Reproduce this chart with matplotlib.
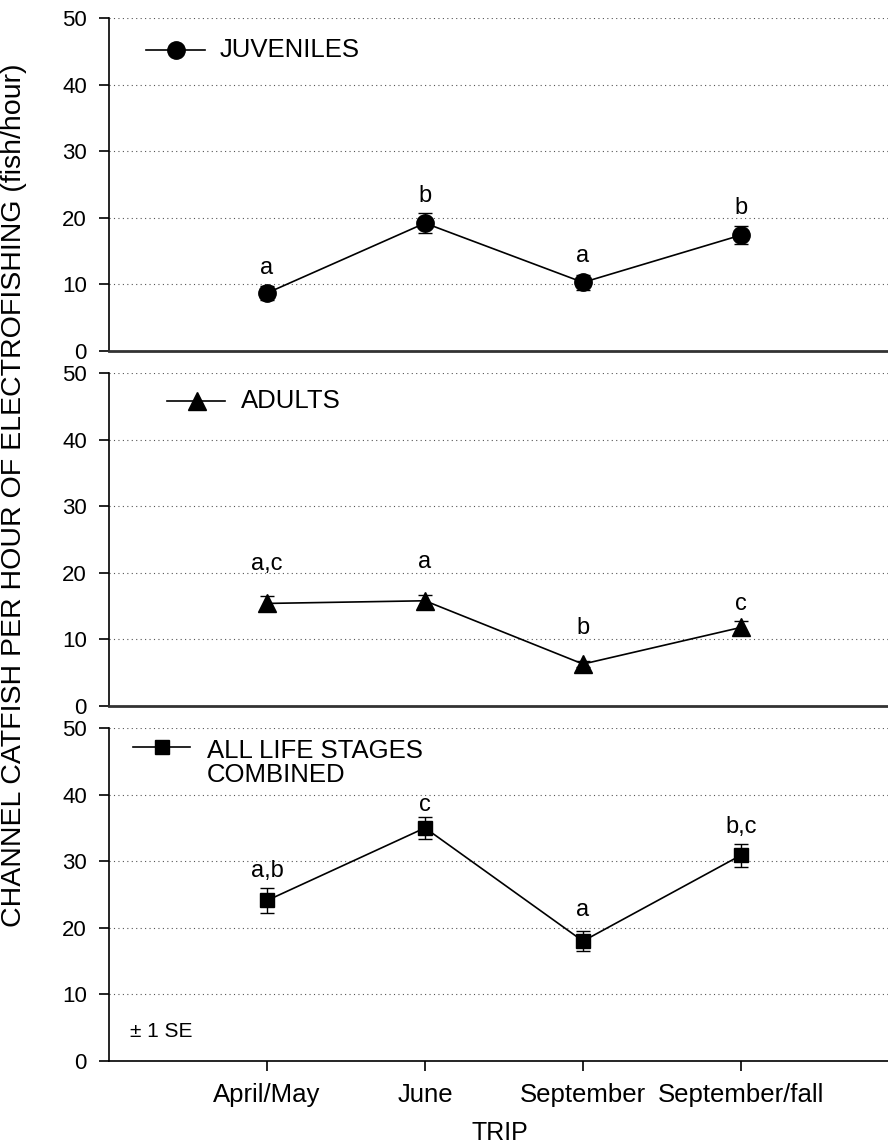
import numpy as np
import matplotlib.pyplot as plt

plt.rcParams['font.family'] = ['Liberation Sans', 'DejaVu Sans']

# data (fish/hour, mean and 1 SE)
trips = ['April/May', 'June', 'September', 'September/fall']

juv_mean = [8.7, 19.2, 10.3, 17.4]
juv_se = [1.1, 1.45, 1.1, 1.35]
juv_letters = ['a', 'b', 'a', 'b']
juv_letter_y = [11.6, 22.3, 13.3, 20.6]

adult_mean = [15.4, 15.8, 6.3, 11.8]
adult_se = [1.1, 0.8, 0.4, 1.0]
adult_letters = ['a,c', 'a', 'b', 'c']
adult_letter_y = [20.4, 20.7, 10.8, 14.4]

all_mean = [24.1, 35.0, 18.0, 30.9]
all_se = [1.9, 1.7, 1.5, 1.7]
all_letters = ['a,b', 'c', 'a', 'b,c']
all_letter_y = [27.6, 37.6, 21.7, 34.3]

W, H = 888, 1146
fig = plt.figure(figsize=(W / 100, H / 100), dpi=100)

left = 109 / W
width = 790 / W
height = 333 / H
bottoms = [1 - 351 / H, 1 - 706 / H, 1 - 1061 / H]

panels = [
    # mean, se, letters, letter y, marker, size, legend text, legend (x0, x1, xm, xt, y)
    (juv_mean, juv_se, juv_letters, juv_letter_y, 'o', 12.5, 'JUVENILES',
     (0.047, 0.1215, 0.0848, 0.1405, 0.904)),
    (adult_mean, adult_se, adult_letters, adult_letter_y, '^', 12.5, 'ADULTS',
     (0.0734, 0.1468, 0.1114, 0.167, 0.916)),
    (all_mean, all_se, all_letters, all_letter_y, 's', 10, 'ALL LIFE STAGES\nCOMBINED',
     (0.0304, 0.1025, 0.0671, 0.124, 0.943)),
]

x = np.arange(len(trips))

for i, (mean, se, letters, letter_y, mk, ms, leg, lp) in enumerate(panels):
    ax = fig.add_axes([left, bottoms[i], width, height])
    ax.set_xlim(-1, 4)
    ax.set_ylim(0, 50)
    ax.set_yticks(range(0, 51, 10))
    ax.yaxis.grid(True, linestyle=(0, (1, 3)), color='#555555', linewidth=0.8)
    ax.set_axisbelow(True)

    for s in ['top', 'right']:
        ax.spines[s].set_visible(False)
    ax.spines['left'].set_linewidth(1.2)
    ax.tick_params(axis='y', direction='out', length=7, width=1.2, pad=9, labelsize=16)

    if i < 2:
        ax.spines['bottom'].set_linewidth(2)
        ax.spines['bottom'].set_color('#333333')
        ax.tick_params(axis='x', bottom=False, labelbottom=False)
    else:
        ax.spines['bottom'].set_linewidth(1.2)
        ax.set_xticks(x)
        ax.set_xticklabels(trips)
        ax.tick_params(axis='x', direction='out', length=7, width=1.2, pad=9, labelsize=18.5)

    ax.errorbar(x, mean, yerr=se, fmt='-', marker=mk, markersize=ms, color='black',
                lw=1.2, elinewidth=1, capsize=5, capthick=1, zorder=3, clip_on=False)

    for xi, ly, lab in zip(x, letter_y, letters):
        ax.text(xi, ly, lab, ha='center', va='baseline', fontsize=17)

    # hand-drawn legend
    x0, x1, xm, xt, ly = lp
    ax.plot([x0, x1], [ly, ly], color='black', lw=1.2, transform=ax.transAxes)
    ax.plot([xm], [ly], marker=mk, markersize=ms, color='black', transform=ax.transAxes)
    if '\n' in leg:
        ax.text(xt, ly + 0.025, leg, transform=ax.transAxes, va='top', ha='left',
                fontsize=18.5, linespacing=1.0)
    else:
        ax.text(xt, ly, leg, transform=ax.transAxes, va='center', ha='left', fontsize=18.5)

    if i == 2:
        ax.text(0.0266, 0.072, '± 1 SE', transform=ax.transAxes, ha='left', va='baseline',
                fontsize=15)

fig.text(0.016, 1 - 495 / H, 'CHANNEL CATFISH PER HOUR OF ELECTROFISHING (fish/hour)',
         rotation=90, ha='center', va='center', fontsize=20.5)
fig.text(500 / W, 1 - 1133 / H, 'TRIP', ha='center', va='center', fontsize=18)

fig.savefig('out.png', dpi=100)
